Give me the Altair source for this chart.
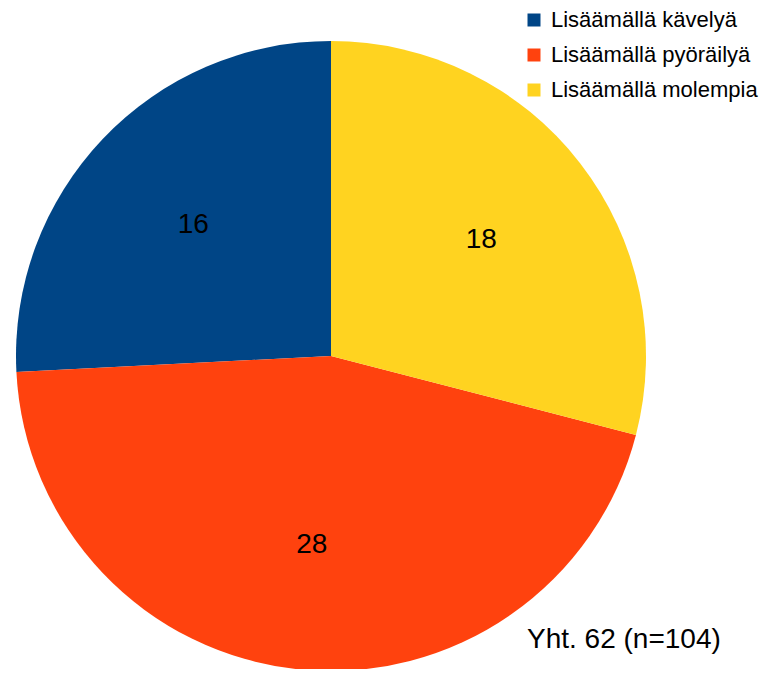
import altair as alt
import pandas as pd

categories = ["Lisäämällä kävelyä", "Lisäämällä pyöräilyä", "Lisäämällä molempia"]
values = [16, 28, 18]
order = [3, 2, 1]
colors = ["#004586", "#ff420e", "#ffd320"]
note = "Yht. 62 (n=104)"

df = pd.DataFrame({"cat": categories, "val": values, "ord": order})

cx, cy, R = 323, 348, 315

base = alt.Chart(df).encode(
    theta=alt.Theta("val:Q", stack=True),
    order=alt.Order("ord:Q"),
    x=alt.value(cx),
    y=alt.value(cy),
)

arcs = base.mark_arc(outerRadius=R, stroke=None).encode(
    color=alt.Color(
        "cat:N",
        scale=alt.Scale(domain=categories, range=colors),
        legend=alt.Legend(
            title=None,
            orient="none",
            legendX=515,
            legendY=1,
            symbolType="square",
            symbolSize=169,
            symbolStrokeWidth=0,
            labelFont="Liberation Sans",
            labelFontSize=22,
            labelColor="#000000",
            labelOffset=6,
            rowPadding=13,
            padding=0,
            labelLimit=400,
        ),
    )
)

labels = base.mark_text(
    radius=190, font="Liberation Sans", fontSize=28, color="#000000"
).encode(text="val:Q")

note_df = pd.DataFrame({"t": [note]})
note_text = alt.Chart(note_df).mark_text(
    align="left", baseline="middle", font="Liberation Sans", fontSize=28, color="#000000"
).encode(text="t:N", x=alt.value(519), y=alt.value(632))

chart = alt.layer(arcs, labels, note_text).properties(
    width=758, height=661, autosize=alt.AutoSizeParams(type="none"), padding=0
).configure_view(stroke=None)

chart.save("out.html", embed_options={"renderer": "svg", "actions": False})
